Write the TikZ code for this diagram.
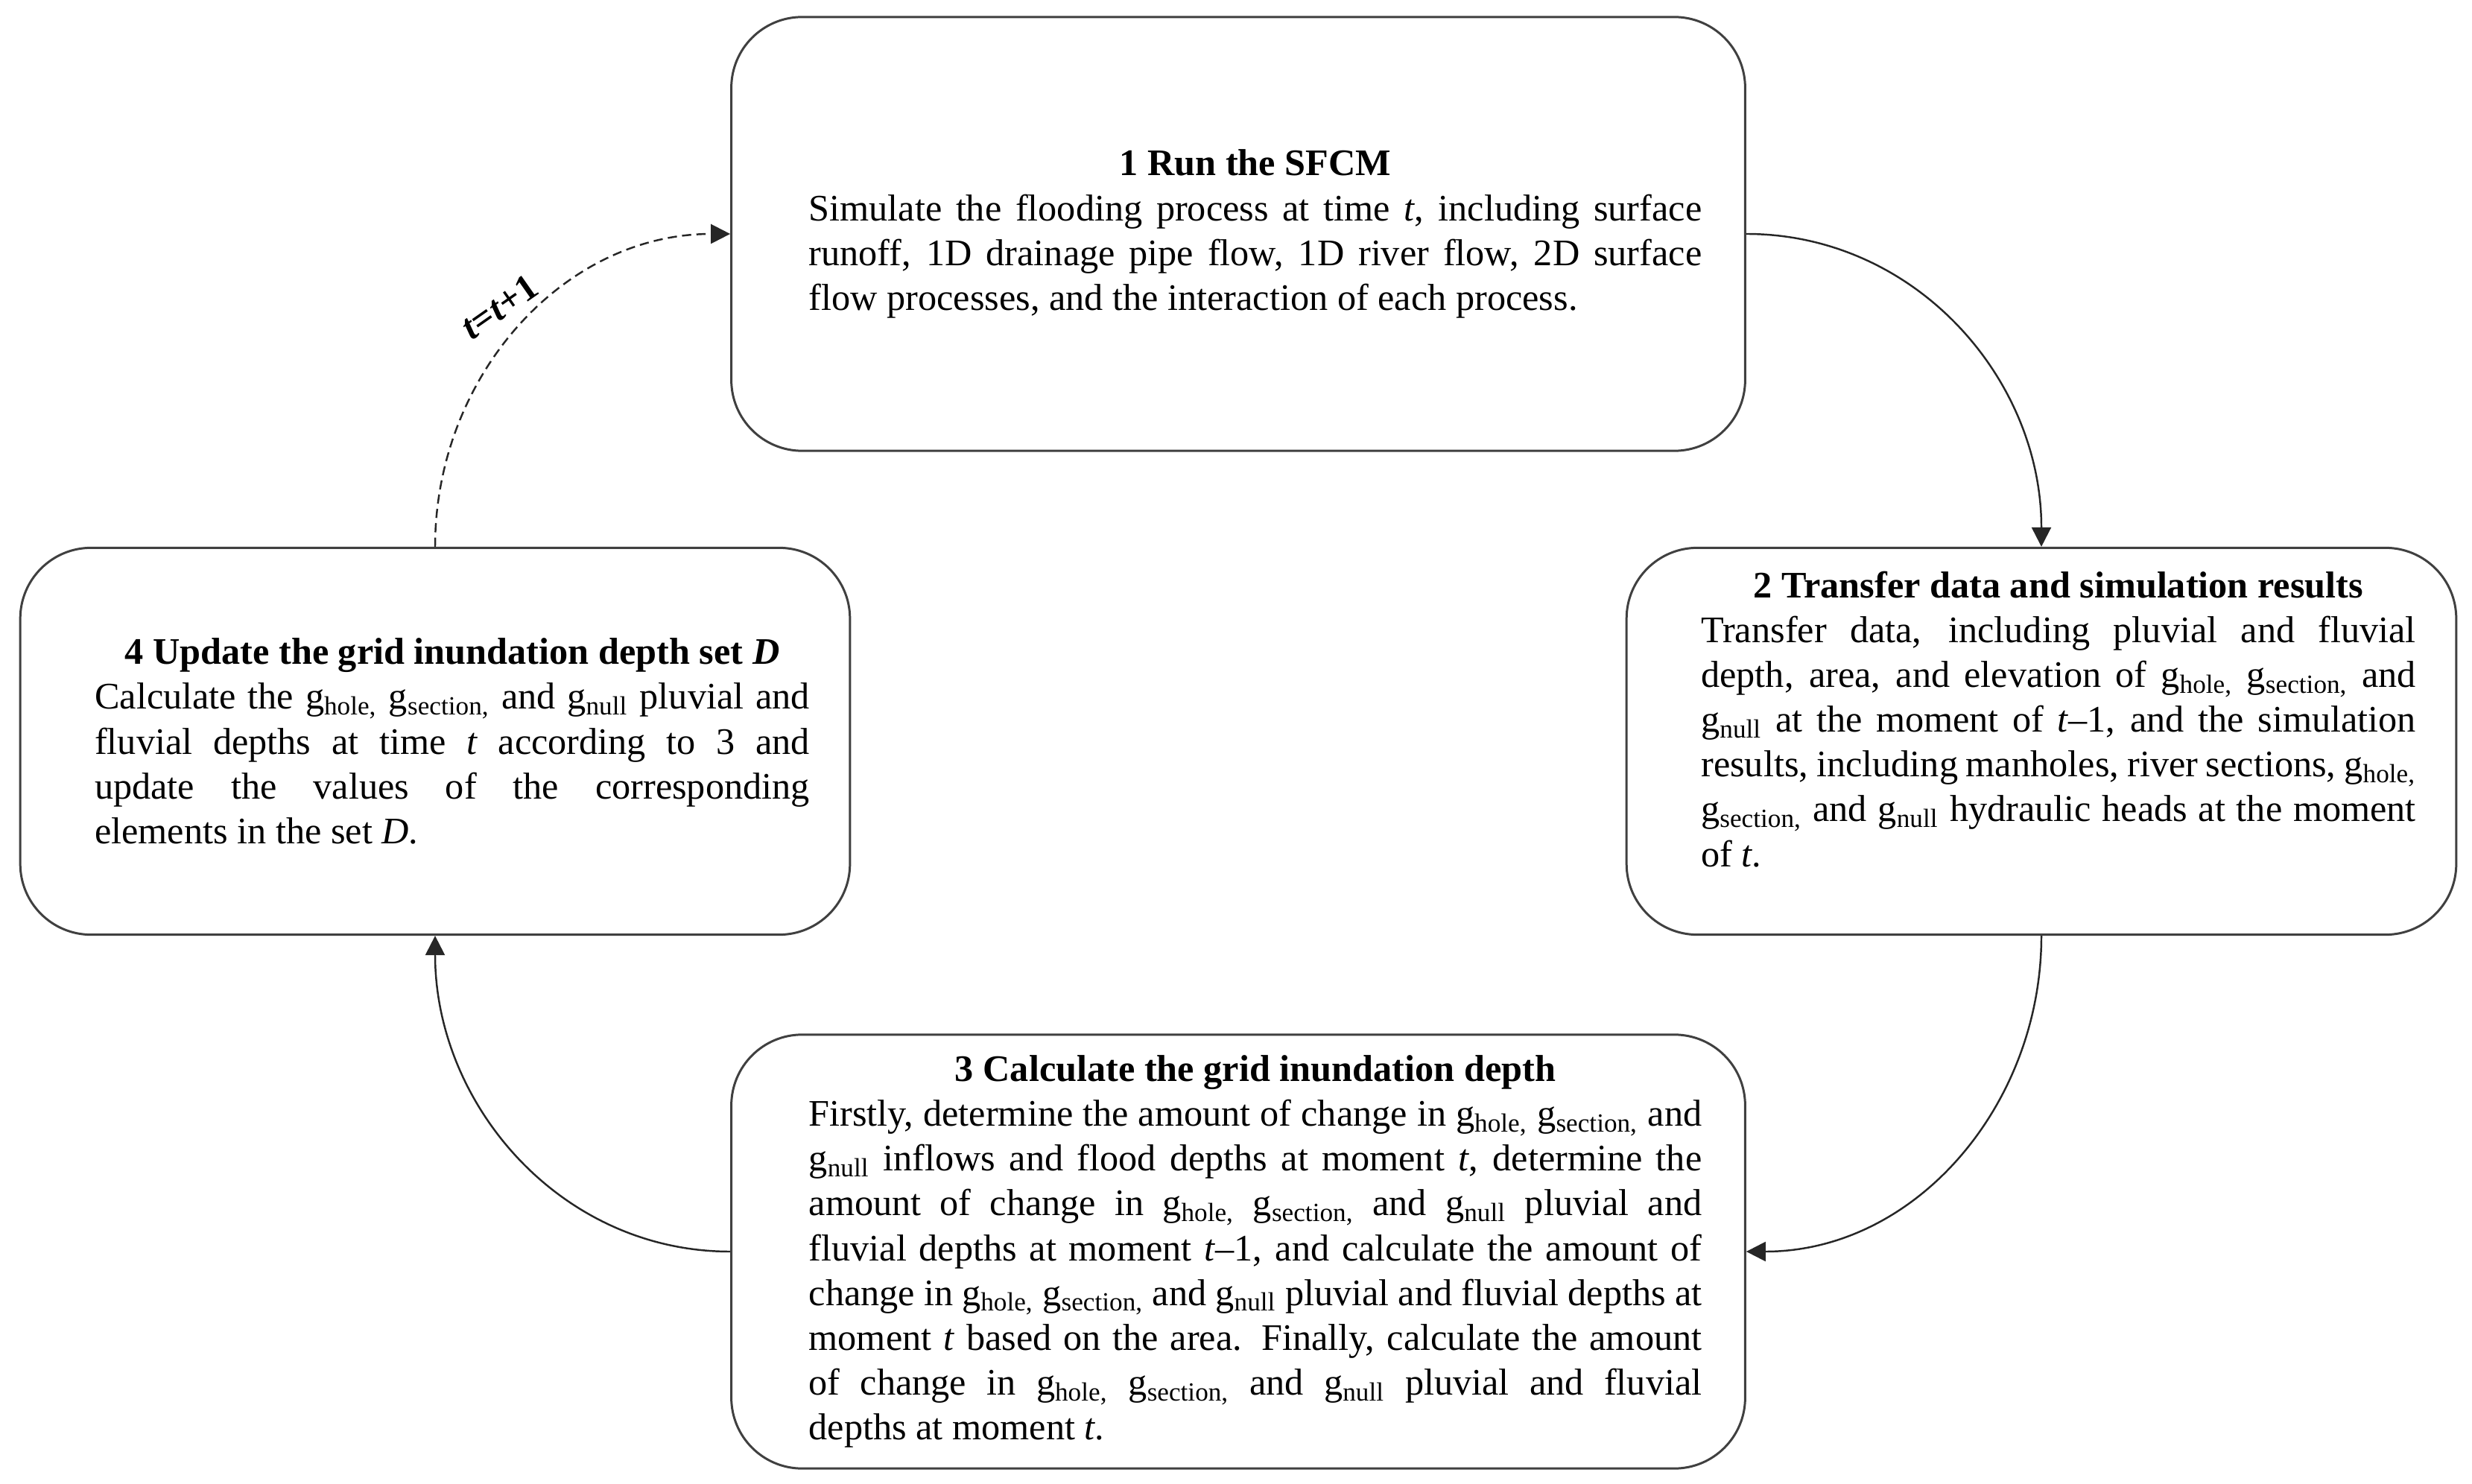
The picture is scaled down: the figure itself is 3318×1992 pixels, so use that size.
\documentclass[tikz,border=0pt]{standalone}
\usepackage{fontspec}
\setmainfont{Liberation Serif}
\usetikzlibrary{arrows.meta}
\tolerance=10000
\hyphenpenalty=10000
\hbadness=10000
\hfuzz=2cm
\newcommand{\gs}[1]{g\textsubscript{#1}}
\newcommand{\boxtitle}[1]{\leftskip=0.23cm\rightskip=-0.23cm\makebox[\hsize][c]{\bfseries #1}\\}
\begin{document}
\begin{tikzpicture}[x=0.01cm,y=0.01cm,
  box/.style={draw=black!75, line width=0.85pt, rounded corners=0.95cm, fill=white,
    align=justify, font=\fontsize{14.3}{17.1}\selectfont},
  wide/.style={box, minimum width=13.6cm, minimum height=5.82cm, text width=11.98cm},
  narrow/.style={box, minimum width=11.13cm, minimum height=5.19cm, text width=9.59cm},
  conn/.style={line width=0.7pt, draw=black!85, -{Triangle[length=0.26cm,width=0.26cm]}},
  lbl/.style={font=\fontsize{14.3}{17.1}\selectfont\bfseries}]
\useasboundingbox (0,0) rectangle (3318,-1992);

\node[wide] (b1) at (1662,-314) {\boxtitle{1 Run the SFCM}%
Simulate the flooding process at time \textit{t}, including surface\linebreak
runoff, 1D drainage pipe flow, 1D river flow, 2D surface\linebreak
flow processes, and the interaction of each process.\par};

\node[narrow] (b2) at (2740,-995) {\boxtitle{2 Transfer data and simulation results}%
Transfer data, including pluvial and fluvial\linebreak
depth, area, and elevation of \gs{hole,} \gs{section,} and\linebreak
\gs{null} at the moment of \textit{t}--1, and the simulation\linebreak
results, including manholes, river sections, \gs{hole,}\linebreak
\gs{section,} and \gs{null} hydraulic heads at the moment\linebreak
of \textit{t}.\par\rule{0pt}{0.42cm}};

\node[wide] (b3) at (1662,-1680) {\boxtitle{3 Calculate the grid inundation depth}%
Firstly, determine the amount of change in \gs{hole,} \gs{section,} and\linebreak
\gs{null} inflows and flood depths at moment \textit{t}, determine the\linebreak
amount of change in \gs{hole,} \gs{section,} and \gs{null} pluvial and\linebreak
fluvial depths at moment \textit{t}--1, and calculate the amount of\linebreak
change in \gs{hole,} \gs{section,} and \gs{null} pluvial and fluvial depths at\linebreak
moment \textit{t} based on the area. Finally, calculate the amount\linebreak
of change in \gs{hole,} \gs{section,} and \gs{null} pluvial and fluvial\linebreak
depths at moment \textit{t}.\par};

\node[narrow] (b4) at (584,-995) {\boxtitle{4 Update the grid inundation depth set \textit{D}}%
Calculate the \gs{hole,} \gs{section,} and \gs{null} pluvial and\linebreak
fluvial depths at time \textit{t} according to 3 and\linebreak
update the values of the corresponding\linebreak
elements in the set \textit{D}.\par};

\draw[conn] (b1.east) to[out=0,in=90] (b2.north);
\draw[conn] (b2.south) to[out=-90,in=0] (b3.east);
\draw[conn] (b3.west) to[out=180,in=-90] (b4.south);
\draw[conn,dash pattern=on 3.5pt off 2pt] (b4.north) to[out=90,in=180] (b1.west);
\node[lbl,rotate=35] (inc) at (670,-412) {\textit{t}=\textit{t}+1};
\end{tikzpicture}
\end{document}
